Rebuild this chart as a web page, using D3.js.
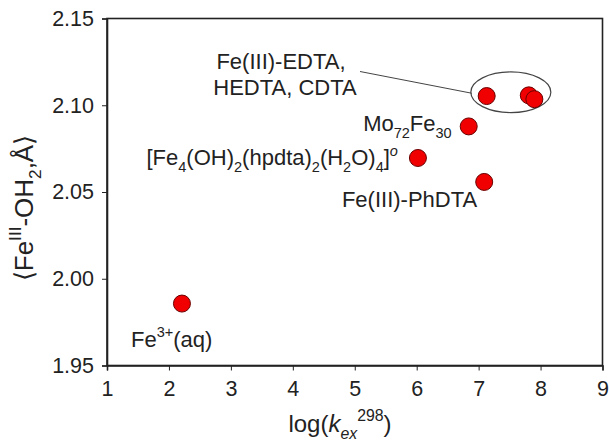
<!DOCTYPE html>
<html>
<head>
<meta charset="utf-8">
<script src="https://cdn.jsdelivr.net/npm/d3@7"></script>
<style>
  body { margin: 0; background: #fff; }
  text { font-family: "Liberation Sans", Arial, sans-serif; fill: #222; }
</style>
</head>
<body>
<svg id="chart" width="609" height="442"></svg>
<script>
// complexes, log(kex 298) and mean Fe-OH2 distance (Å)
const complexes = ['Fe3+(aq)', '[Fe4(OH)2(hpdta)2(H2O)4]', 'Mo72Fe30', 'Fe(III)-PhDTA', 'Fe(III)-EDTA', 'Fe(III)-HEDTA', 'Fe(III)-CDTA'];
const logKex = [2.21, 6.02, 6.84, 7.09, 7.13, 7.81, 7.90];
const feOH2 = [1.9857, 2.0696, 2.0878, 2.0558, 2.1053, 2.1057, 2.1035];

const xTicks = [1, 2, 3, 4, 5, 6, 7, 8, 9];
const yTicks = [1.95, 2.00, 2.05, 2.10, 2.15];

const width = 609, height = 442;
const margin = {top: 18.5, right: 6.5, bottom: 76.5, left: 107};

const svg = d3.select('#chart');

var x = d3.scaleLinear().domain([1, 9]).range([margin.left, width - margin.right]);
var y = d3.scaleLinear().domain([1.95, 2.15]).range([height - margin.bottom, margin.top]);

// writes a label made of normal / sub / sup pieces
function rich(t, parts, size) {
  let shift = 0;
  parts.forEach(p => {
    const target = p[1] === 'sub' ? size * 0.3 : p[1] === 'sup' ? -size * 0.45 : 0;
    const ts = t.append('tspan')
      .attr('dy', target - shift)
      .style('font-size', (p[1] ? size * 0.66 : size) + 'px')
      .text(p[0]);
    if (p[2] === 'i') ts.style('font-style', 'italic');
    shift = target;
  });
}

// frame
svg.append('rect')
  .attr('x', x(1)).attr('y', y(2.15))
  .attr('width', x(9) - x(1)).attr('height', y(1.95) - y(2.15))
  .attr('fill', 'none').attr('stroke', '#222').attr('stroke-width', 1.6);

const xAxis = svg.append('g')
  .attr('transform', `translate(0,${y(1.95)})`)
  .call(d3.axisBottom(x).tickValues(xTicks).tickSize(5).tickPadding(10).tickFormat(d3.format('d')));
const yAxis = svg.append('g')
  .attr('transform', `translate(${x(1)},0)`)
  .call(d3.axisLeft(y).tickValues(yTicks).tickSize(5).tickPadding(8).tickFormat(d3.format('.2f')));

[xAxis, yAxis].forEach(a => {
  a.select('.domain').attr('stroke', '#222').attr('stroke-width', 1.6);
  a.selectAll('.tick line').attr('stroke', '#222').attr('stroke-width', 1);
  a.selectAll('.tick text').style('font-size', '21.5px').style('font-family', '"Liberation Sans", Arial, sans-serif').attr('fill', '#222');
});

// ellipse round the EDTA family + leader line
const ell = {cx: 7.52, cy: 2.1075, rx: 0.646, ry: 0.0117};
svg.append('ellipse')
  .attr('cx', x(ell.cx)).attr('cy', y(ell.cy))
  .attr('rx', x(1 + ell.rx) - x(1)).attr('ry', y(2) - y(2 + ell.ry))
  .attr('fill', 'none').attr('stroke', '#444').attr('stroke-width', 1.2);
svg.append('line')
  .attr('x1', 360).attr('y1', 71.5)
  .attr('x2', x(ell.cx - ell.rx) + 1).attr('y2', y(ell.cy) + 1)
  .attr('stroke', '#444').attr('stroke-width', 1);

// points
svg.selectAll('circle.pt')
  .data(complexes.map((c, i) => ({name: c, k: logKex[i], d: feOH2[i]})))
  .join('circle')
  .attr('class', 'pt')
  .attr('cx', d => x(d.k))
  .attr('cy', d => y(d.d))
  .attr('r', 8.5)
  .attr('fill', '#f00000')
  .attr('stroke', '#6a0000')
  .attr('stroke-width', 1);

// point labels
const fs = 22;
function label(i, dx, dy, anchor, parts) {
  const t = svg.append('text')
    .attr('x', x(logKex[i]) + dx).attr('y', y(feOH2[i]) + dy)
    .attr('text-anchor', anchor)
    .style('font-size', fs + 'px');
  rich(t, parts, fs);
}
label(0, -51, 43, 'start', [['Fe'], ['3+', 'sup'], ['(aq)']]);
label(1, -20, 7.5, 'end', [['[Fe'], ['4', 'sub'], ['(OH)'], ['2', 'sub'], ['(hpdta)'], ['2', 'sub'], ['(H'], ['2', 'sub'], ['O)'], ['4', 'sub'], [']'], ['o', 'sup', 'i']]);
label(2, -17, 5, 'end', [['Mo'], ['72', 'sub'], ['Fe'], ['30', 'sub']]);
label(3, -7, 25, 'end', [['Fe(III)-PhDTA']]);

svg.append('text').attr('x', 281).attr('y', 69).attr('text-anchor', 'middle')
  .style('font-size', fs + 'px').text('Fe(III)-EDTA,');
svg.append('text').attr('x', 285).attr('y', 95).attr('text-anchor', 'middle')
  .style('font-size', fs + 'px').text('HEDTA, CDTA');

// axis titles
const xt = svg.append('text')
  .attr('x', 340).attr('y', 432)
  .attr('text-anchor', 'middle')
  .style('font-size', '24px');
rich(xt, [['log('], ['k', null, 'i'], ['ex', 'sub', 'i'], ['298', 'sup'], [')']], 24);

const yt = svg.append('text')
  .attr('transform', 'translate(33,208) rotate(-90)')
  .attr('text-anchor', 'middle')
  .style('font-size', '26px');
rich(yt, [['\u27E8Fe'], ['III', 'sup'], ['-OH'], ['2', 'sub'], [',\u00C5\u27E9']], 26);
</script>
</body>
</html>
